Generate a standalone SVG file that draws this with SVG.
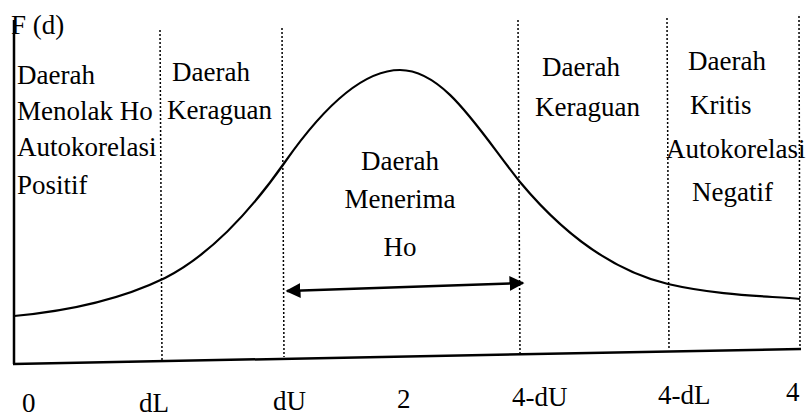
<svg xmlns="http://www.w3.org/2000/svg" width="807" height="419" viewBox="0 0 807 419">
<defs>
<style>
text{font-family:"Liberation Serif","Times New Roman",serif;font-size:27px;fill:#000}
.dot{stroke:#000;stroke-width:1.5;stroke-dasharray:2,2;fill:none}
.ax{stroke:#000;stroke-width:2.5;fill:none}
.crv{stroke:#000;stroke-width:2.2;fill:none}
</style>
<marker id="ah" viewBox="0 0 10 10" refX="9" refY="5" markerWidth="6" markerHeight="6" orient="auto-start-reverse" markerUnits="strokeWidth"><path d="M0,0 L10,5 L0,10 z" fill="#000"/></marker>
</defs>
<g id="axes">
<line class="ax" x1="14" y1="20" x2="14" y2="364"/>
<line class="ax" x1="13" y1="364" x2="801" y2="349"/>
</g>
<g id="gridlines">
<line class="dot" x1="160" y1="30" x2="162" y2="360"/>
<line class="dot" x1="282" y1="28" x2="284" y2="357"/>
<line class="dot" x1="518" y1="20" x2="520" y2="353"/>
<line class="dot" x1="667" y1="18" x2="669" y2="350"/>
<line class="dot" x1="799" y1="16" x2="800" y2="348"/>
</g>
<g id="curve">
<path class="crv" d="M14,316 C80,310 130,295 165,278 C210,255 250,212 285,162 C320,112 360,70 400,70 C445,70 480,132 520,182 C560,230 610,270 668,284 C720,296 770,296 800,299"/>
</g>
<g id="connectors">
<line x1="287" y1="291" x2="523" y2="283" stroke="#000" stroke-width="2.5" marker-start="url(#ah)" marker-end="url(#ah)"/>
</g>
<g id="label-fd"><text x="11" y="34">F (d)</text></g>
<g id="region-menolak">
<text x="17" y="84">Daerah</text>
<text x="17" y="120">Menolak Ho</text>
<text x="17" y="156">Autokorelasi</text>
<text x="17" y="194">Positif</text>
</g>
<g id="region-keraguan-left">
<text x="172" y="81">Daerah</text>
<text x="167" y="119">Keraguan</text>
</g>
<g id="region-menerima">
<text x="400" y="170" text-anchor="middle">Daerah</text>
<text x="400" y="208" text-anchor="middle">Menerima</text>
<text x="400" y="256" text-anchor="middle">Ho</text>
</g>
<g id="region-keraguan-right">
<text x="542" y="76">Daerah</text>
<text x="535" y="116">Keraguan</text>
</g>
<g id="region-kritis">
<text x="688" y="70">Daerah</text>
<text x="690" y="114">Kritis</text>
<text x="666" y="158">Autokorelasi</text>
<text x="692" y="201">Negatif</text>
</g>
<g id="ticks">
<text x="22" y="412">0</text>
<text x="139" y="412">dL</text>
<text x="273" y="410">dU</text>
<text x="397" y="408">2</text>
<text x="512" y="406">4-dU</text>
<text x="658" y="404">4-dL</text>
<text x="786" y="401">4</text>
</g>
</svg>
